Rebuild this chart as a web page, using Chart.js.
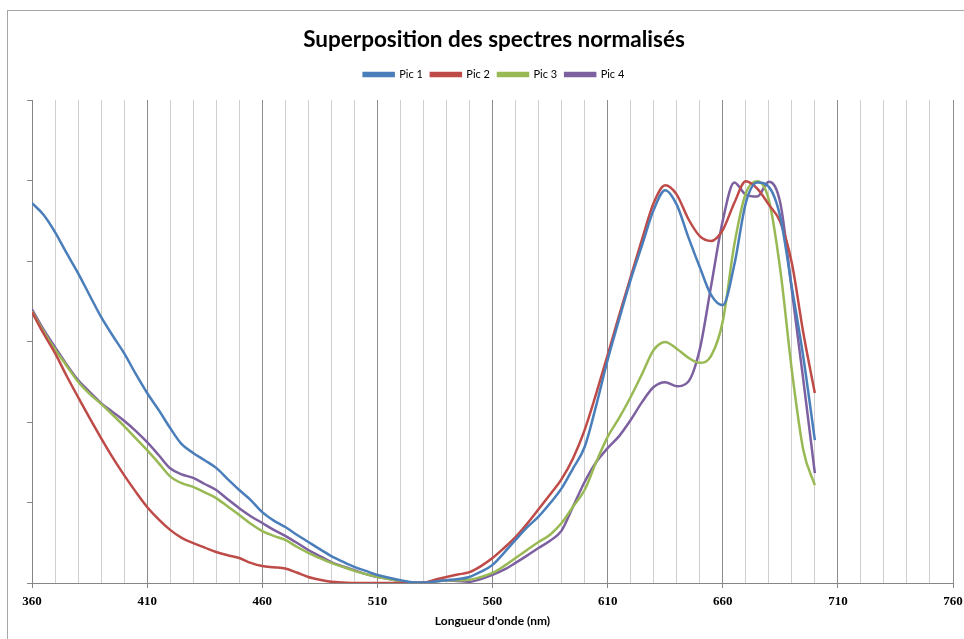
<!DOCTYPE html>
<html>
<head>
<meta charset="utf-8">
<script src="https://cdn.jsdelivr.net/npm/chart.js@4"></script>
<style>
  html, body { margin: 0; padding: 0; background: #fff; }
  #wrap { width: 964px; height: 639px; }
</style>
</head>
<body>
<div id="wrap"><canvas id="spectres" width="964" height="639"></canvas></div>
<script>
// Longueurs d'onde (nm)
const longueurs = [];
for (let l = 360; l <= 700; l += 5) longueurs.push(l);

// Spectres normalisés
const pic1 = [0.944, 0.915, 0.872, 0.82, 0.77, 0.715, 0.661, 0.615, 0.571, 0.52,
  0.472, 0.43, 0.385, 0.345, 0.323, 0.305, 0.286, 0.258, 0.231, 0.206,
  0.176, 0.155, 0.139, 0.12, 0.102, 0.084, 0.067, 0.053, 0.04, 0.03,
  0.02, 0.013, 0.007, 0.002, 0.001, 0.004, 0.007, 0.01, 0.015, 0.028,
  0.045, 0.075, 0.107, 0.138, 0.165, 0.198, 0.235, 0.285, 0.338, 0.44,
  0.554, 0.655, 0.753, 0.84, 0.927, 0.976, 0.94, 0.86, 0.785, 0.715,
  0.69, 0.79, 0.944, 0.995, 0.984, 0.909, 0.735, 0.561, 0.355];
const pic2 = [0.673, 0.62, 0.571, 0.515, 0.462, 0.41, 0.36, 0.312, 0.268, 0.227,
  0.189, 0.158, 0.132, 0.112, 0.099, 0.088, 0.077, 0.069, 0.062, 0.05,
  0.042, 0.039, 0.036, 0.026, 0.015, 0.008, 0.003, 0.001, 0, 0,
  0, 0, 0, 0, 0.001, 0.008, 0.015, 0.021, 0.027, 0.042,
  0.062, 0.087, 0.114, 0.147, 0.183, 0.22, 0.258, 0.31, 0.38, 0.47,
  0.566, 0.665, 0.76, 0.855, 0.944, 0.988, 0.965, 0.905, 0.862, 0.85,
  0.877, 0.944, 0.998, 0.98, 0.94, 0.897, 0.795, 0.621, 0.472];
const pic3 = [0.675, 0.625, 0.58, 0.54, 0.5, 0.47, 0.445, 0.418, 0.39, 0.36,
  0.33, 0.298, 0.265, 0.248, 0.239, 0.225, 0.211, 0.19, 0.169, 0.147,
  0.129, 0.117, 0.107, 0.09, 0.075, 0.062, 0.05, 0.04, 0.03, 0.022,
  0.015, 0.01, 0.005, 0.001, 0.001, 0.004, 0.007, 0.007, 0.008, 0.015,
  0.025, 0.042, 0.062, 0.082, 0.102, 0.12, 0.149, 0.19, 0.231, 0.3,
  0.363, 0.41, 0.462, 0.52, 0.579, 0.599, 0.582, 0.56, 0.547, 0.565,
  0.65, 0.84, 0.968, 0.998, 0.952, 0.778, 0.529, 0.33, 0.243];
const pic4 = [0.68, 0.63, 0.586, 0.543, 0.504, 0.475, 0.447, 0.425, 0.403, 0.378,
  0.35, 0.318, 0.285, 0.27, 0.261, 0.246, 0.231, 0.208, 0.186, 0.166,
  0.149, 0.132, 0.117, 0.1, 0.082, 0.067, 0.052, 0.041, 0.032, 0.022,
  0.015, 0.01, 0.005, 0.001, 0.001, 0.004, 0.007, 0.005, 0.003, 0.01,
  0.02, 0.033, 0.05, 0.068, 0.087, 0.105, 0.13, 0.19, 0.251, 0.3,
  0.335, 0.365, 0.405, 0.45, 0.487, 0.499, 0.489, 0.5, 0.58, 0.74,
  0.9, 0.995, 0.965, 0.96, 0.997, 0.944, 0.728, 0.504, 0.273];

const series = [
  { nom: 'Pic 1', valeurs: pic1, couleur: '#4a7ebb' },
  { nom: 'Pic 2', valeurs: pic2, couleur: '#be4b48' },
  { nom: 'Pic 3', valeurs: pic3, couleur: '#98b954' },
  { nom: 'Pic 4', valeurs: pic4, couleur: '#7d60a0' }
];

// cadre gris autour du graphique + espace sous la légende
const cadre = {
  id: 'cadre',
  afterInit(chart) {
    const leg = chart.legend;
    const fit = leg.fit;
    leg.fit = function () { fit.call(this); this.height += 10; };
  },
  beforeDraw(chart) {
    const ctx = chart.ctx;
    ctx.save();
    ctx.fillStyle = '#fff';
    ctx.fillRect(0, 0, chart.width, chart.height);
    ctx.strokeStyle = '#a6a6a6';
    ctx.lineWidth = 1;
    ctx.strokeRect(7.5, 10.5, chart.width - 7, chart.height - 8);
    ctx.restore();
  }
};

const estMajeur = v => Math.round(v - 360) % 50 === 0;

const ctx = document.getElementById('spectres').getContext('2d');
const chart = new Chart(ctx, {
  type: 'line',
  data: {
    datasets: series.map(s => ({
      label: s.nom,
      data: longueurs.map((l, i) => ({ x: l, y: s.valeurs[i] })),
      borderColor: s.couleur,
      backgroundColor: s.couleur,
      borderWidth: 2.5,
      pointRadius: 0,
      cubicInterpolationMode: 'monotone',
      fill: false
    }))
  },
  options: {
    responsive: false,
    animation: false,
    layout: { padding: { left: 24, right: 0, top: 0, bottom: 7 } },
    plugins: {
      title: {
        display: true,
        text: 'Superposition des spectres normalisés',
        color: '#000',
        font: { family: 'Lato', size: 22.5, weight: 'bold' },
        padding: { top: 26, bottom: 8 }
      },
      legend: {
        position: 'top',
        labels: {
          color: '#000',
          font: { family: 'Lato', size: 11 },
          boxWidth: 30,
          boxHeight: 3,
          padding: 8
        }
      },
      tooltip: { enabled: false }
    },
    scales: {
      x: {
        type: 'linear',
        min: 360,
        max: 760,
        afterFit: s => { s.height = 49; s.paddingRight = 11; },
        border: { color: '#868686' },
        grid: {
          color: c => estMajeur(c.tick.value) ? '#8c8c8c' : '#cfcfcf',
          tickColor: c => estMajeur(c.tick.value) ? '#868686' : 'rgba(0,0,0,0)',
          tickLength: 5
        },
        ticks: {
          stepSize: 10,
          autoSkip: false,
          maxRotation: 0,
          color: '#000',
          font: { family: 'Liberation Serif', size: 13, weight: 'bold' },
          padding: 6,
          callback: v => estMajeur(v) ? String(v) : ''
        },
        title: {
          display: true,
          text: "Longueur d'onde (nm)",
          color: '#000',
          font: { family: 'Lato', size: 12, weight: 'bold' },
          padding: { top: 2 }
        }
      },
      y: {
        min: 0,
        max: 1.2,
        afterFit: s => { s.width = 8; },
        border: { color: '#868686' },
        grid: { drawOnChartArea: false, tickLength: 5, tickColor: '#868686' },
        ticks: { stepSize: 0.2, callback: () => '' }
      }
    }
  },
  plugins: [cadre]
});
</script>
</body>
</html>
